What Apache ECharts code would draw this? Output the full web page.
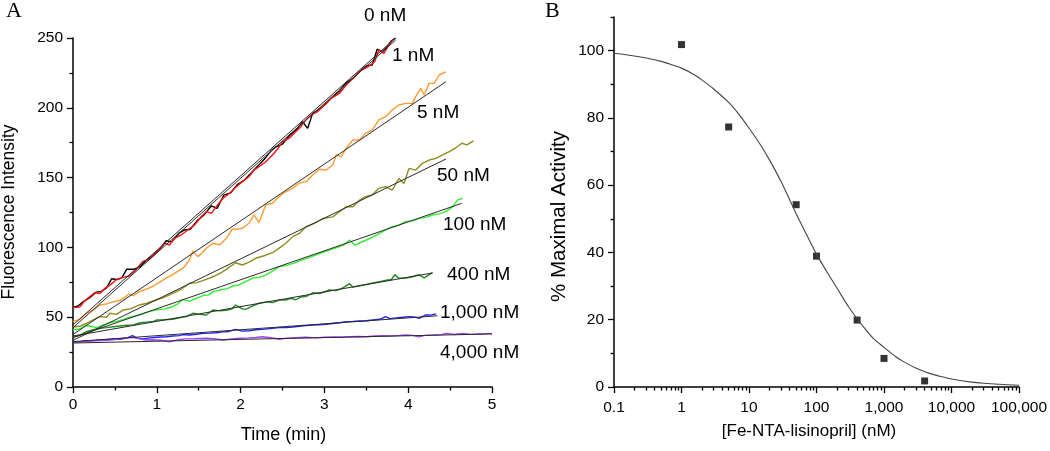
<!DOCTYPE html>
<html><head><meta charset="utf-8">
<script src="https://cdn.jsdelivr.net/npm/echarts@6/dist/echarts.min.js"></script>
<style>html,body{margin:0;padding:0;background:#fff}#c{width:1050px;height:451px}</style>
</head><body><div id="c"></div>
<script>
// ---------- Panel A: fluorescence traces [time (min), intensity] ----------
const trace0nM = [[0,57],[0.06,58],[0.12,61],[0.2,64],[0.28,68],[0.34,68.5],[0.4,71],[0.46,77.5],[0.52,77],[0.58,78],[0.64,84.3],[0.72,84.3],[0.8,86],[0.88,91],[0.96,94.5],[1.04,99],[1.11,104.8],[1.18,104],[1.26,110],[1.33,112.5],[1.4,113],[1.48,119],[1.56,123],[1.65,129.7],[1.72,128],[1.8,137.5],[1.88,139],[1.96,145],[2.04,148],[2.12,153],[2.2,158],[2.28,163],[2.36,169],[2.42,172],[2.5,174],[2.58,180],[2.66,184],[2.74,190],[2.8,185.3],[2.86,196],[2.94,199],[3.02,203],[3.1,208],[3.18,212],[3.26,218],[3.34,221],[3.42,226],[3.5,230],[3.57,230.7],[3.63,242],[3.69,240],[3.75,244],[3.8,248],[3.85,250]];
const trace1nM = [[0,57],[0.08,57.2],[0.14,61.8],[0.2,64.7],[0.26,67.6],[0.32,67],[0.38,70.6],[0.44,73],[0.52,77],[0.6,78.5],[0.67,79.5],[0.75,83.8],[0.83,89.8],[0.91,91.5],[1.01,97],[1.09,103],[1.15,101.7],[1.21,106.5],[1.29,108.9],[1.37,112.5],[1.45,116],[1.53,122],[1.59,125.6],[1.65,124.4],[1.71,129.2],[1.79,135.2],[1.87,138.8],[1.94,143],[2.02,147],[2.1,150.7],[2.16,155.4],[2.22,157.8],[2.3,161.4],[2.38,166.2],[2.44,170.3],[2.5,175.8],[2.58,178.2],[2.66,183],[2.72,186.5],[2.78,191.3],[2.84,194.9],[2.92,197.3],[3.0,202],[3.08,206.8],[3.18,210.4],[3.26,216.3],[3.36,222.3],[3.44,227],[3.52,229.4],[3.6,233],[3.65,241.4],[3.71,239],[3.77,245],[3.82,249]];
const trace5nM = [[0,46.8],[0.08,48.5],[0.16,52.8],[0.24,55],[0.32,58.7],[0.4,59.5],[0.48,61.1],[0.56,62],[0.63,64.7],[0.66,66.5],[0.72,65.5],[0.79,68.3],[0.87,70],[0.95,72],[1.03,75],[1.11,78],[1.19,80.5],[1.27,83.5],[1.33,86],[1.39,91.2],[1.43,97.5],[1.49,93.4],[1.54,96],[1.59,99.4],[1.67,103],[1.75,101.8],[1.83,106.5],[1.9,113],[1.96,113.2],[2.02,113.7],[2.1,117.3],[2.16,123.3],[2.22,117.8],[2.3,130.4],[2.38,131.6],[2.46,136.4],[2.54,140],[2.62,142.3],[2.7,146],[2.78,147.1],[2.86,151.9],[2.94,156],[3.02,155.4],[3.1,159],[3.14,166.2],[3.2,165],[3.26,171],[3.34,176.9],[3.42,176.9],[3.49,181.7],[3.57,184],[3.65,191.3],[3.73,193.6],[3.81,198.4],[3.89,202],[3.97,203.2],[4.05,203.2],[4.09,208],[4.15,213.9],[4.19,209.2],[4.25,217.5],[4.31,217.5],[4.37,223.5],[4.45,225.8]];
const trace50nM = [[0,43],[0.08,43.5],[0.16,45.5],[0.24,48],[0.32,50.4],[0.4,50],[0.44,52.8],[0.52,52],[0.6,55.2],[0.68,56],[0.79,58.7],[0.88,60],[0.99,62.3],[1.08,64],[1.19,67.1],[1.29,70],[1.39,74.3],[1.48,74.8],[1.59,77.1],[1.69,79.5],[1.79,82.6],[1.87,86],[1.94,89],[2.02,87.4],[2.1,89.5],[2.18,92.2],[2.28,94],[2.38,96.2],[2.46,99.5],[2.54,103],[2.62,107.7],[2.7,110],[2.78,114.8],[2.88,117.2],[2.98,120.7],[3.1,121.9],[3.18,125.5],[3.26,129.1],[3.34,129.1],[3.42,133.9],[3.49,136.3],[3.57,137.5],[3.65,142.3],[3.73,143.5],[3.81,141.1],[3.89,149.4],[3.95,145.8],[4.01,156.6],[4.09,155.4],[4.17,160.2],[4.25,162.6],[4.33,163.8],[4.41,166.2],[4.49,168.6],[4.56,171],[4.64,174.6],[4.7,173.4],[4.78,176.3]];
const trace100nM = [[0,40.8],[0.08,41.5],[0.14,43.7],[0.2,43.7],[0.28,42.5],[0.36,44.5],[0.44,46],[0.52,47],[0.6,48.5],[0.68,50],[0.79,51.6],[0.88,53.5],[0.99,55.2],[1.08,55.8],[1.19,57.5],[1.25,59.5],[1.31,62.8],[1.39,61.5],[1.47,63.5],[1.55,65.5],[1.62,66],[1.67,68.3],[1.76,69.5],[1.84,70.5],[1.91,72.5],[1.98,73.1],[2.06,75.5],[2.14,77.9],[2.22,78.5],[2.3,80.2],[2.38,83],[2.46,86.2],[2.54,87],[2.63,88.6],[2.71,90.5],[2.79,92.2],[2.87,94],[2.95,95.8],[3.06,98],[3.18,100.5],[3.24,102],[3.3,105.3],[3.36,101.7],[3.43,103.5],[3.5,105.3],[3.58,107.5],[3.66,110.1],[3.73,112.5],[3.81,114.8],[3.89,116],[3.97,118.4],[4.05,119],[4.13,120.8],[4.21,121.5],[4.29,123.2],[4.37,124],[4.45,125.6],[4.53,129.2],[4.59,134],[4.65,135]];
const trace400nM = [[0,36],[0.08,37],[0.16,39.6],[0.24,41],[0.32,42],[0.4,42.5],[0.48,43.2],[0.56,43.7],[0.64,44.2],[0.72,44.4],[0.8,46],[0.88,46.5],[0.96,47],[1.0,48],[1.08,48.2],[1.19,48.5],[1.27,49.5],[1.35,50.4],[1.43,52.8],[1.51,52],[1.59,51.6],[1.67,55.2],[1.75,54.5],[1.83,55],[1.9,56],[1.94,58.7],[2.02,56],[2.06,55.6],[2.14,58],[2.22,60],[2.31,61],[2.38,60.4],[2.46,62.3],[2.54,62.3],[2.6,63.5],[2.66,62.5],[2.72,64.5],[2.79,65],[2.86,67.5],[2.95,67],[3.06,69.5],[3.14,69],[3.22,71],[3.3,74],[3.34,71.5],[3.42,72.5],[3.5,73.5],[3.58,74.5],[3.66,75.5],[3.74,76.5],[3.8,77],[3.84,80.5],[3.89,77.9],[3.97,78],[4.05,79],[4.13,80.5],[4.19,78.2],[4.25,80.5],[4.29,81.9]];
const trace1000nM = [[0,32.4],[0.08,32.5],[0.16,33],[0.24,33.2],[0.32,33.7],[0.4,33.9],[0.48,34.5],[0.56,34.2],[0.64,35],[0.71,36.8],[0.76,35],[0.83,34.5],[0.92,35.2],[1.0,35.6],[1.11,36],[1.19,36.5],[1.27,36.8],[1.31,37.5],[1.39,37.2],[1.47,37.8],[1.55,38.4],[1.63,38.6],[1.71,38.9],[1.79,39.5],[1.86,39.8],[1.94,41.3],[2.02,40],[2.1,40.3],[2.18,41],[2.26,41.3],[2.38,42],[2.46,42.5],[2.54,42.6],[2.62,43],[2.7,43.5],[2.78,44],[2.86,44.4],[2.94,44.6],[3.02,45],[3.1,45.5],[3.18,46],[3.26,46.8],[3.34,47],[3.42,47.3],[3.5,47.5],[3.58,48],[3.66,48.5],[3.73,50.4],[3.78,49],[3.86,49.5],[3.94,50],[4.01,50.4],[4.07,50.2],[4.13,49.2],[4.21,51.6],[4.27,51.5],[4.33,52.3]];
const trace4000nM = [[0,32.4],[0.1,32.6],[0.2,33],[0.3,33.3],[0.4,33.5],[0.5,34],[0.6,34.9],[0.71,35.6],[0.8,34.5],[0.87,33.7],[0.95,33.8],[1.05,33.5],[1.15,32.4],[1.25,33.8],[1.35,34.5],[1.45,34.6],[1.59,34.9],[1.7,34.5],[1.79,33.7],[1.9,34.5],[1.99,34.9],[2.1,35.2],[2.18,35.5],[2.26,36],[2.36,35.3],[2.46,34.2],[2.56,35],[2.66,35.3],[2.78,35.6],[2.9,35.2],[3.0,35.6],[3.1,35.8],[3.2,35.6],[3.3,36],[3.4,36.2],[3.5,36],[3.6,36.5],[3.7,36.8],[3.8,36.6],[3.9,37],[3.97,37.3],[4.05,37],[4.13,35.9],[4.2,37],[4.3,37.2],[4.4,37.5],[4.45,38.4],[4.55,37.6],[4.65,38.4],[4.75,37.7],[4.85,38],[4.95,38.2],[5.0,38.2]];

// linear fits (start and end points)
const fit0nM = [[0,44.5],[3.85,250]];
const fit1nM = [[0,42.5],[3.85,248.5]];
const fit5nM = [[0,37.6],[4.45,218.7]];
const fit50nM = [[0,33.4],[4.45,163.3]];
const fit100nM = [[0,35.3],[4.64,131.6]];
const fit400nM = [[0,36.5],[4.29,81.7]];
const fit1000nM = [[0,32.5],[4.35,51]];
const fit4000nM = [[0,31.5],[5.0,38]];

const traceNames = ['0 nM','1 nM','5 nM','50 nM','100 nM','400 nM','1,000 nM','4,000 nM'];
const traceColors = ['#000000','#ff1010','#ff9a2e','#8e8e1e','#30f030','#1f8a1f','#2020ff','#a040ff'];
const traces = [trace0nM,trace1nM,trace5nM,trace50nM,trace100nM,trace400nM,trace1000nM,trace4000nM];
const fits = [fit0nM,fit1nM,fit5nM,fit50nM,fit100nM,fit400nM,fit1000nM,fit4000nM];

// ---------- Panel B: inhibition ----------
const concB = [1, 5, 50, 100, 400, 1000, 4000];
const activityB = [101.8, 77.3, 54.2, 38.9, 19.9, 8.5, 1.8];
const curveConc = [0.1,0.2,0.3,0.5,0.7,1,1.5,2,3,5,7,10,15,20,30,50,70,100,150,200,300,500,700,1000,1500,2000,3000,5000,7000,10000,20000,30000,50000,100000];
const curveAct  = [99.2,98.4,97.8,96.8,95.9,94.8,93.0,91.3,88.6,84.6,81.2,77,71.8,67.6,61,51.5,45.6,39.5,33.5,29.5,23.8,17.8,14.4,11.8,9.0,7.4,5.6,3.9,3.1,2.4,1.45,1.1,0.8,0.5];

const bXTicks = [0.1,1,10,100,1000,10000,100000];
const bXLabels = ['0.1','1','10','100','1,000','10,000','100,000'];
const bYTicks = [0,20,40,60,80,100];
const bYMinor = [10,30,50,70,90,110];
const bXMinor = [];
for (let k = -1; k < 5; k++) for (let d = 2; d <= 9; d++) bXMinor.push(+(d * Math.pow(10, k)).toPrecision(3));

const FONT = 'Liberation Sans';
const axisLineStyle = {show:true, lineStyle:{color:'#000', width:1.5}};
const labelStyle = {color:'#000', fontFamily:FONT, fontSize:15.5};

const series = [];
traces.forEach((d,i)=>{
  series.push({type:'line', xAxisIndex:0, yAxisIndex:0, data:d, showSymbol:false, symbol:'none',
    lineStyle:{color:traceColors[i], width:1.4}, z:2, silent:true});
});
fits.forEach((d,i)=>{
  series.push({type:'line', xAxisIndex:0, yAxisIndex:0, data:d, showSymbol:false, symbol:'none',
    lineStyle:{color:'#2a2a2a', width:1}, z:3, silent:true});
});
series.push({type:'line', xAxisIndex:1, yAxisIndex:1, data:curveConc.map((c,i)=>[c,curveAct[i]]),
  smooth:0.3, showSymbol:false, symbol:'none', lineStyle:{color:'#444', width:1.1}, silent:true});
series.push({type:'scatter', xAxisIndex:1, yAxisIndex:1, data:concB.map((c,i)=>[c,activityB[i]]),
  symbol:'rect', symbolSize:7, itemStyle:{color:'#000'}, silent:true});

const chart = echarts.init(document.getElementById('c'), null, {renderer:'canvas'});
chart.setOption({
  animation:false,
  backgroundColor:'#fff',
  grid:[
    {left:73, top:38, width:419, height:349},
    {left:614, top:17, width:407, height:370}
  ],
  xAxis:[
    {type:'value', gridIndex:0, min:0, max:5, interval:1, axisLine:axisLineStyle,
     axisTick:{show:true, length:6, lineStyle:{color:'#000', width:1.3}},
     minorTick:{show:true, splitNumber:2, length:3.5, lineStyle:{color:'#000', width:1.3}},
     axisLabel:Object.assign({margin:10}, labelStyle), splitLine:{show:false}},
    {type:'log', logBase:10, gridIndex:1, min:0.1, max:100000, position:'bottom', axisLine:axisLineStyle,
     axisTick:{show:true, length:6, customValues:bXTicks, lineStyle:{color:'#000', width:1.3}},
     axisLabel:Object.assign({margin:13, customValues:bXTicks, formatter:function(v){
        const i = bXTicks.findIndex(t=>Math.abs(Math.log10(t)-Math.log10(v))<1e-6);
        return i>=0 ? bXLabels[i] : '';
     }}, labelStyle), splitLine:{show:false}, minorTick:{show:false}},
    {type:'log', logBase:10, gridIndex:1, min:0.1, max:100000, position:'bottom', axisLine:{show:false},
     axisTick:{show:true, length:3.5, customValues:bXMinor, lineStyle:{color:'#000', width:1.3}},
     axisLabel:{show:false}, splitLine:{show:false}}
  ],
  yAxis:[
    {type:'value', gridIndex:0, min:0, max:250, interval:50, axisLine:axisLineStyle,
     axisTick:{show:true, length:6, lineStyle:{color:'#000', width:1.3}},
     minorTick:{show:true, splitNumber:2, length:3.5, lineStyle:{color:'#000', width:1.3}},
     axisLabel:Object.assign({margin:10}, labelStyle), splitLine:{show:false}},
    {type:'value', gridIndex:1, min:0, max:110, position:'left', axisLine:axisLineStyle,
     axisTick:{show:true, length:6, customValues:bYTicks, lineStyle:{color:'#000', width:1.3}},
     axisLabel:Object.assign({margin:10, customValues:bYTicks}, labelStyle), splitLine:{show:false}},
    {type:'value', gridIndex:1, min:0, max:110, position:'left', axisLine:{show:false},
     axisTick:{show:true, length:3.5, customValues:bYMinor, lineStyle:{color:'#000', width:1.3}},
     axisLabel:{show:false}, splitLine:{show:false}}
  ],
  graphic:[
    {type:'text', x:6, y:11, style:{text:'A', fontFamily:'Liberation Serif', fontSize:22, fill:'#000', align:'left', verticalAlign:'middle'}},
    {type:'text', x:545, y:11, style:{text:'B', fontFamily:'Liberation Serif', fontSize:22, fill:'#000', align:'left', verticalAlign:'middle'}},
    {type:'text', x:9, y:212, rotation:Math.PI/2, style:{text:'Fluorescence Intensity', fontFamily:FONT, fontSize:17.5, fill:'#000', align:'center', verticalAlign:'middle'}},
    {type:'text', x:283.5, y:435, style:{text:'Time (min)', fontFamily:FONT, fontSize:18, fill:'#000', align:'center', verticalAlign:'middle'}},
    {type:'text', x:559.5, y:216.5, rotation:Math.PI/2, style:{text:'% Maximal Activity', fontFamily:FONT, fontSize:20.5, fill:'#000', align:'center', verticalAlign:'middle'}},
    {type:'text', x:809, y:431.5, style:{text:'[Fe-NTA-lisinopril] (nM)', fontFamily:FONT, fontSize:17, fill:'#000', align:'center', verticalAlign:'middle'}},
    {type:'text', x:364, y:15.3, style:{text:traceNames[0], fontFamily:FONT, fontSize:19, fill:'#000', verticalAlign:'middle'}},
    {type:'text', x:392, y:55.4, style:{text:traceNames[1], fontFamily:FONT, fontSize:19, fill:'#000', verticalAlign:'middle'}},
    {type:'text', x:417, y:112.4, style:{text:traceNames[2], fontFamily:FONT, fontSize:19, fill:'#000', verticalAlign:'middle'}},
    {type:'text', x:437, y:175.4, style:{text:traceNames[3], fontFamily:FONT, fontSize:19, fill:'#000', verticalAlign:'middle'}},
    {type:'text', x:443, y:225, style:{text:traceNames[4], fontFamily:FONT, fontSize:19, fill:'#000', verticalAlign:'middle'}},
    {type:'text', x:447, y:274.4, style:{text:traceNames[5], fontFamily:FONT, fontSize:19, fill:'#000', verticalAlign:'middle'}},
    {type:'text', x:440, y:313, style:{text:traceNames[6], fontFamily:FONT, fontSize:19, fill:'#000', verticalAlign:'middle'}},
    {type:'text', x:440, y:352.5, style:{text:traceNames[7], fontFamily:FONT, fontSize:19, fill:'#000', verticalAlign:'middle'}}
  ],
  series:series
});
</script>
</body></html>
